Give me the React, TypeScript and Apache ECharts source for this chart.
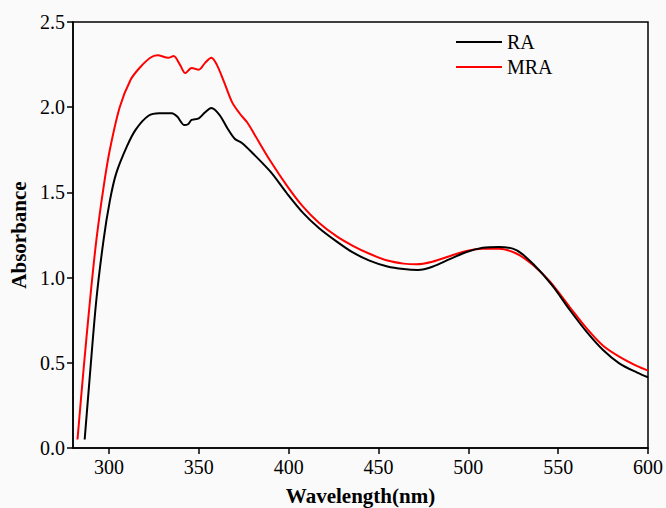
import React, { useEffect, useRef } from "react";
import * as echarts from "echarts";

const xTicks = [300, 350, 400, 450, 500, 550, 600];

const raData: [number, number][] = [
  [286.5, 0.05], [289.5, 0.44], [293, 0.87], [297, 1.22], [300.5, 1.45], [304, 1.61],
  [310, 1.77], [315, 1.87], [322, 1.95], [328, 1.965], [335, 1.965], [338, 1.945],
  [342, 1.895], [344, 1.9], [346, 1.925], [350, 1.935], [353.5, 1.97], [357, 1.995],
  [361.5, 1.955], [366, 1.875], [370, 1.815], [374, 1.79], [380, 1.73], [390, 1.62],
  [399, 1.495], [408, 1.38], [417, 1.29], [427, 1.21], [436, 1.146], [445, 1.1],
  [455, 1.065], [464, 1.05], [472, 1.045], [480, 1.064], [490, 1.11], [499, 1.15],
  [508, 1.175], [517, 1.18], [527, 1.16], [537, 1.07], [547, 0.95], [556.5, 0.81],
  [566, 0.68], [575, 0.575], [584, 0.497], [594, 0.442], [600, 0.415],
];

const mraData: [number, number][] = [
  [282.5, 0.05], [285.7, 0.44], [289.5, 0.87], [293, 1.22], [297, 1.53], [300.5, 1.75],
  [306, 2.0], [312, 2.16], [317, 2.23], [323, 2.29], [327, 2.305], [333, 2.29],
  [336, 2.3], [339.5, 2.25], [342.5, 2.2], [346, 2.23], [350, 2.22], [353.5, 2.26],
  [357, 2.29], [360, 2.25], [364, 2.15], [368.5, 2.03], [373, 1.96], [377, 1.91],
  [381, 1.84], [389.5, 1.69], [399, 1.54], [408, 1.416], [417, 1.32], [427, 1.24],
  [436, 1.185], [445, 1.14], [455, 1.1], [464, 1.082], [471, 1.078], [480, 1.093],
  [490, 1.127], [499, 1.156], [508, 1.17], [517, 1.17], [527, 1.14], [536, 1.074],
  [545.5, 0.976], [556.5, 0.826], [566, 0.7], [575, 0.6], [584, 0.536], [594, 0.48],
  [600, 0.454],
];

const FONT = "'Liberation Serif', 'Times New Roman', serif";

export default function App() {
  const ref = useRef<HTMLDivElement>(null);
  useEffect(() => {
    document.body.style.margin = "0";
    const chart = echarts.init(ref.current!, null, { renderer: "svg" });
    chart.setOption({
      animation: false,
      backgroundColor: "#fafafa",
      grid: {
        left: 73,
        right: 18,
        top: 22,
        bottom: 60,
        outerBoundsMode: "none",
        containLabel: false,
        show: true,
        borderColor: "#000",
        borderWidth: 1.5,
        backgroundColor: "transparent",
      },
      legend: {
        orient: "vertical",
        left: 456,
        top: 32,
        padding: 0,
        icon: "rect",
        itemWidth: 46,
        itemHeight: 2,
        itemGap: 5,
        data: ["RA", "MRA"],
        textStyle: { fontFamily: FONT, fontSize: 20, lineHeight: 20, color: "#000" },
      },
      xAxis: {
        type: "value",
        min: 280,
        max: 600,
        name: "Wavelength(nm)",
        nameLocation: "middle",
        nameGap: 37,
        nameTextStyle: { fontFamily: FONT, fontSize: 21, lineHeight: 21, fontWeight: "bold", color: "#000" },
        axisLine: { lineStyle: { color: "#000", width: 1.5 } },
        axisTick: { length: 6, lineStyle: { color: "#000", width: 1.5 }, customValues: xTicks },
        axisLabel: {
          customValues: xTicks,
          margin: 9,
          fontFamily: FONT,
          fontSize: 20,
          color: "#000",
        },
        splitLine: { show: false },
      },
      yAxis: {
        type: "value",
        min: 0,
        max: 2.5,
        interval: 0.5,
        name: "Absorbance",
        nameLocation: "middle",
        nameGap: 42,
        nameTextStyle: { fontFamily: FONT, fontSize: 21, fontWeight: "bold", color: "#000" },
        axisLine: { show: true, lineStyle: { color: "#000", width: 1.5 } },
        axisTick: { show: true, length: 6, lineStyle: { color: "#000", width: 1.5 } },
        axisLabel: {
          margin: 8,
          fontFamily: FONT,
          fontSize: 20,
          color: "#000",
          formatter: (v: number) => v.toFixed(1),
        },
        splitLine: { show: false },
      },
      series: [
        {
          name: "MRA",
          type: "line",
          data: mraData,
          smooth: 0.3,
          symbol: "none",
          lineStyle: { color: "#ff0000", width: 2 },
          itemStyle: { color: "#ff0000" },
          z: 2,
        },
        {
          name: "RA",
          type: "line",
          data: raData,
          smooth: 0.3,
          symbol: "none",
          lineStyle: { color: "#000000", width: 2 },
          itemStyle: { color: "#000000" },
          z: 3,
        },
      ],
    });
    return () => chart.dispose();
  }, []);
  return <div ref={ref} style={{ width: 666, height: 508 }} />;
}
